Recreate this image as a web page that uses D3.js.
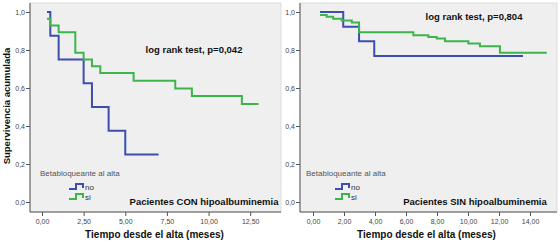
<!DOCTYPE html>
<html>
<head>
<meta charset="utf-8">
<script src="https://cdn.jsdelivr.net/npm/d3@7"></script>
<style>
  body { margin: 0; background: #fff; }
  text { font-family: Arial, "Liberation Sans", sans-serif; }
</style>
</head>
<body>
<svg id="chart" width="560" height="242"></svg>
<script>
// Kaplan-Meier steps: [months, survival]
const conNo = [[0.3, 1.0], [0.5, 0.875], [1.0, 0.75], [2.5, 0.625], [3.0, 0.5], [4.0, 0.375], [5.0, 0.25], [7.0, 0.25]];
const conSi = [[0.3, 0.964], [0.5, 0.929], [1.0, 0.893], [2.0, 0.786], [2.5, 0.75], [3.0, 0.714], [3.5, 0.679],
  [5.5, 0.638], [8.0, 0.598], [9.0, 0.558], [12.0, 0.516], [13.0, 0.516]];
const sinNo = [[0.45, 1.0], [1.95, 0.923], [2.97, 0.846], [3.95, 0.769], [13.55, 0.769]];
const sinSi = [[0.45, 0.984], [0.88, 0.975], [1.3, 0.965], [1.85, 0.955], [2.5, 0.945], [2.97, 0.893],
  [6.47, 0.877], [7.44, 0.868], [7.98, 0.86], [8.52, 0.846], [10.02, 0.834], [10.77, 0.82], [12.06, 0.786], [15.08, 0.786]];

const yTicks = [0, 0.2, 0.4, 0.6, 0.8, 1.0];
const conTicks = [0, 2.5, 5, 7.5, 10, 12.5];
const sinTicks = [0, 2, 4, 6, 8, 10, 12, 14];
const groups = ["no", "si"];
const colors = { no: "#3d4fae", si: "#3db54a" };

const svg = d3.select("#chart");
const comma = d => d.toFixed(2).replace(".", ",");
const comma1 = d => d.toFixed(1).replace(".", ",");

function panel(opt) {
  const x = d3.scaleLinear().domain(opt.xdom).range([opt.left, opt.right]);
  const y = d3.scaleLinear().domain([0, 1]).range([202, 12]);
  const top = 3, bottom = 212;
  const g = svg.append("g");

  g.append("rect")
    .attr("x", opt.left).attr("y", top)
    .attr("width", opt.right - opt.left).attr("height", bottom - top)
    .attr("fill", "#efefef").attr("stroke", "#dcdcdc");

  // y axis
  const ya = g.append("g").attr("transform", `translate(${opt.left},0)`)
    .call(d3.axisLeft(y).tickValues(yTicks).tickFormat(comma1).tickSize(4).tickSizeOuter(0));
  ya.select(".domain").attr("stroke", "#555").attr("d", `M0,${top}V${bottom}`);
  ya.selectAll(".tick line").attr("stroke", "#555");
  ya.selectAll(".tick text").attr("font-size", 7).attr("fill", "#444").attr("x", -5);

  // x axis
  const xa = g.append("g").attr("transform", `translate(0,${bottom})`)
    .call(d3.axisBottom(x).tickValues(opt.ticks).tickFormat(comma).tickSize(4).tickSizeOuter(0));
  xa.select(".domain").attr("stroke", "#555").attr("d", `M${opt.left},0H${opt.right}`);
  xa.selectAll(".tick line").attr("stroke", "#555");
  xa.selectAll(".tick text").attr("font-size", 7).attr("fill", "#444").attr("y", 7);

  const line = d3.line().x(d => x(d[0])).y(d => y(d[1])).curve(d3.curveStepAfter);
  opt.series.forEach(s => {
    g.append("path").datum(s.data)
      .attr("d", line)
      .attr("fill", "none")
      .attr("stroke", colors[s.key])
      .attr("stroke-width", 2);
  });

  g.append("text").attr("x", opt.pX).attr("y", opt.pY)
    .attr("text-anchor", "middle").attr("font-size", 9.5).attr("font-weight", "bold")
    .attr("fill", "#111").text(opt.ptext);

  g.append("text").attr("x", opt.titleX).attr("y", 205)
    .attr("text-anchor", "middle").attr("font-size", 9.5).attr("font-weight", "bold")
    .attr("fill", "#111").text(opt.title);

  g.append("text").attr("x", (opt.left + opt.right) / 2 + opt.xtOff).attr("y", 238)
    .attr("text-anchor", "middle").attr("font-size", 10).attr("font-weight", "bold")
    .attr("fill", "#111").text("Tiempo desde el alta (meses)");

  // legend
  g.append("text").attr("x", opt.legX).attr("y", 176)
    .attr("font-size", 8).attr("fill", "#555").text("Betabloqueante al alta");
  groups.forEach((k, i) => {
    const ly = 187 + i * 10;
    const lx = opt.legIcon;
    g.append("path")
      .attr("d", `M${lx},${ly + 2}H${lx + 7}V${ly - 3}H${lx + 14}V${ly + 1}`)
      .attr("fill", "none").attr("stroke", colors[k]).attr("stroke-width", 2);
    g.append("text").attr("x", lx + 16).attr("y", ly + 2.5)
      .attr("font-size", 8).attr("fill", "#333").text(k);
  });
}

panel({
  left: 30, right: 281, xdom: [-0.72, 14.35], ticks: conTicks,
  series: [{ key: "no", data: conNo }, { key: "si", data: conSi }],
  ptext: "log rank test, p=0,042", pX: 194, pY: 53,
  title: "Pacientes CON hipoalbuminemia", titleX: 204, xtOff: -1,
  legX: 40, legIcon: 69
});

panel({
  left: 300, right: 557, xdom: [-0.84, 15.74], ticks: sinTicks,
  series: [{ key: "no", data: sinNo }, { key: "si", data: sinSi }],
  ptext: "log rank test, p=0,804", pX: 474, pY: 20,
  title: "Pacientes SIN hipoalbuminemia", titleX: 475, xtOff: -2,
  legX: 306, legIcon: 335
});

svg.append("text")
  .attr("transform", "translate(10,106) rotate(-90)")
  .attr("text-anchor", "middle").attr("font-size", 9.5).attr("font-weight", "bold")
  .attr("fill", "#111").text("Supervivencia acumulada");
</script>
</body>
</html>
